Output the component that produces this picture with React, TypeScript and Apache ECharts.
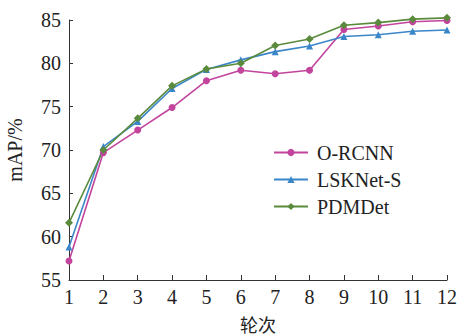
import React, { useEffect, useRef } from "react";
import * as echarts from "echarts";

const rounds = ["1", "2", "3", "4", "5", "6", "7", "8", "9", "10", "11", "12"];
const oRcnn = [57.2, 69.7, 72.3, 74.9, 78.0, 79.2, 78.8, 79.2, 83.9, 84.3, 84.8, 84.95];
const lskNet = [58.8, 70.4, 73.3, 77.1, 79.3, 80.4, 81.35, 82.0, 83.1, 83.3, 83.7, 83.85];
const pdmDet = [61.6, 70.0, 73.65, 77.4, 79.35, 80.0, 82.05, 82.8, 84.4, 84.7, 85.1, 85.25];
const seriesNames = ["O-RCNN", "LSKNet-S", "PDMDet"];
const colors = ["#c2449d", "#3a86c8", "#5a8b3c"];
const symbols = ["circle", "triangle", "diamond"];

const serif = "'Liberation Serif', 'Times New Roman', serif";

export default function App() {
  const ref = useRef<HTMLDivElement>(null);
  useEffect(() => {
    if (!ref.current) return;
    const chart = echarts.init(ref.current, null, { renderer: "svg" });
    const data = [oRcnn, lskNet, pdmDet];
    chart.setOption({
      animation: false,
      backgroundColor: "#ffffff",
      grid: { left: 69, right: 14, top: 20, bottom: 56, outerBoundsMode: "none", containLabel: false },
      legend: {
        orient: "vertical",
        left: 268,
        top: 137,
        itemWidth: 34,
        itemHeight: 9,
        itemGap: 6,
        data: seriesNames,
        textStyle: { fontFamily: serif, fontSize: 20, color: "#222", padding: [0, 0, 0, 4], lineHeight: 21 },
      },
      xAxis: {
        type: "category",
        data: rounds,
        boundaryGap: false,
        name: "轮次",
        nameLocation: "middle",
        nameGap: 34,
        nameTextStyle: { fontFamily: "'Noto Sans CJK SC'", fontSize: 18, color: "#222", lineHeight: 20 },
        axisLine: { lineStyle: { color: "#333", width: 1 } },
        axisTick: { inside: true, length: 5, lineStyle: { color: "#333" } },
        axisLabel: { fontFamily: serif, fontSize: 20, color: "#222", margin: 7 },
        splitLine: { show: false },
      },
      yAxis: {
        type: "value",
        min: 55,
        max: 85,
        interval: 5,
        name: "mAP/%",
        nameLocation: "middle",
        nameGap: 44,
        nameTextStyle: { fontFamily: serif, fontSize: 20, color: "#222" },
        axisLine: { show: true, lineStyle: { color: "#333", width: 1 } },
        axisTick: { show: true, inside: true, length: 4, lineStyle: { color: "#333" } },
        axisLabel: { fontFamily: serif, fontSize: 20, color: "#222", margin: 8 },
        splitLine: { show: false },
      },
      series: seriesNames.map((name, i) => ({
        name,
        type: "line",
        data: data[i],
        clip: false,
        symbol: symbols[i],
        symbolSize: i === 2 ? 8 : 7,
        color: colors[i],
        lineStyle: { width: 1.6, color: colors[i] },
        itemStyle: { color: colors[i] },
      })),
    });
    return () => chart.dispose();
  }, []);
  return <div ref={ref} style={{ width: 461, height: 336, position: "absolute", left: 0, top: 0 }} />;
}
